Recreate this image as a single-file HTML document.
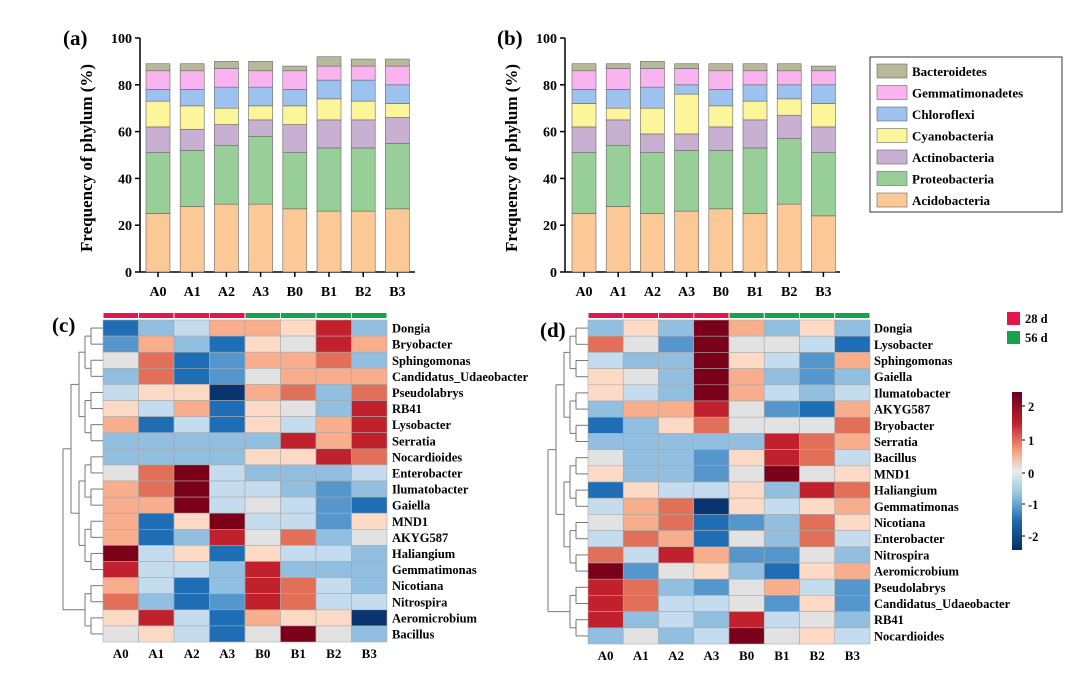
<!DOCTYPE html>
<html><head><meta charset="utf-8"><style>
body{margin:0;background:#fff}
svg{display:block;font-family:"Liberation Serif",serif;font-weight:bold}
</style></head><body>
<svg id="s" width="1080" height="680" xmlns="http://www.w3.org/2000/svg"></svg>
<script>
const s=document.getElementById('s');let h='';
function R(x,y,w,hh,f,st){h+=`<rect x="${x}" y="${y}" width="${w}" height="${hh}" fill="${f}" ${st||''}/>`}
function L(x1,y1,x2,y2,c,w){h+=`<line x1="${x1}" y1="${y1}" x2="${x2}" y2="${y2}" stroke="${c||'#000'}" stroke-width="${w||1}"/>`}
function T(x,y,t,sz,a,ex){h+=`<text x="${x}" y="${y}" font-size="${sz}" text-anchor="${a||'start'}" ${ex||''}>${t}</text>`}
const cols=['#fcc896','#98cf98','#c8b0d2','#fdf59a','#9ec2ef','#f9b4f0','#b8b89a'];
const xl=['A0','A1','A2','A3','B0','B1','B2','B3'];
function bar(ax,first,data,lab,lx){
 const y0=272,k=2.34;
 L(ax,38,ax,y0,'#000',1.5);L(ax,y0,ax+275,y0,'#000',1.5);
 for(let v=0;v<=100;v+=20){const y=y0-v*k;L(ax-5,y,ax,y,'#000',1.5);T(ax-8,y+5,v,14,'end')}
 data.forEach((d,i)=>{const cx=first+i*34.2;let prev=0;d.forEach((c,j)=>{R(cx-12,y0-c*k,24,(c-prev)*k,cols[j],'stroke="#666" stroke-width="0.6"');prev=c});
  L(cx,y0,cx,y0+5,'#000',1.5);T(cx,296,xl[i],14,'middle')});
 T(lx,45,lab,21,'start');
 h+=`<text transform="translate(${ax-48},158) rotate(-90)" font-size="17" text-anchor="middle">Frequency of phylum (%)</text>`;
}
bar(140,158,[[25,51,62,73,78,86,89],[28,52,61,71,78,86,89],[29,54,63,70,79,87,90],[29,58,65,71,79,86,90],[27,51,63,71,78,86,88],[26,53,65,74,82,88,92],[26,53,65,73,82,88,91],[27,55,66,72,80,88,91]],'(a)',63);
bar(565,584,[[25,51,62,72,78,86,89],[28,54,65,70,78,87,89],[25,51,59,70,79,87,90],[26,52,59,76,80,87,89],[27,52,62,71,78,86,89],[25,53,65,73,80,86,89],[29,57,67,74,80,86,89],[24,51,62,72,80,86,88]],'(b)',497);
// legend
R(870,57,192,155,'#fff','stroke="#333" stroke-width="1"');
['Bacteroidetes','Gemmatimonadetes','Chloroflexi','Cyanobacteria','Actinobacteria','Proteobacteria','Acidobacteria'].forEach((n,i)=>{const y=64+i*21.5;R(877,y,30,14,cols[6-i],'stroke="#666" stroke-width="0.6"');T(912,y+12,n,13)});
// heatmaps
const pal={'0':'#0a3470','1':'#1f6db5','2':'#5596cd','3':'#92bee0','4':'#c4dcee','5':'#e2e2e2','6':'#fddac6','7':'#f8ae8c','8':'#e26f57','9':'#c0212d','a':'#7a0019'};
function heat(x0,y0,w,rh,rows,names,lx){
 const cw=w/8;
 for(let j=0;j<8;j++)R(x0+j*cw+0.5,y0-7,cw-1,5,j<4?'#e3154c':'#16a34a');
 rows.forEach((r,i)=>{for(let j=0;j<8;j++)R(x0+j*cw,y0+i*rh,cw,rh,pal[r[j]],'stroke="#aaa" stroke-width="0.6"');
  T(lx,y0+i*rh+rh/2+4.5,names[i],12.5);L(x0-4,y0+i*rh+rh/2,x0,y0+i*rh+rh/2,'#777')});
 for(let j=0;j<8;j++)T(x0+j*cw+cw/2,y0+rows.length*rh+16,xl[j],13,'middle');
 // dendrogram
 let nodes=rows.map((_,i)=>({y:y0+i*rh+rh/2,x:x0-4}));
 let depth=[8,14,20,28,36,44];let lvl=0;
 while(nodes.length>1){const nn=[];for(let i=0;i<nodes.length;i+=2){if(i+1<nodes.length){const a=nodes[i],b=nodes[i+1];const x=x0-4-(depth[lvl]||50);L(a.x,a.y,x,a.y,'#777');L(b.x,b.y,x,b.y,'#777');L(x,a.y,x,b.y,'#777');nn.push({x:x,y:(a.y+b.y)/2})}else nn.push(nodes[i])}nodes=nn;lvl++}
}
heat(103,320,284,16.1,['13477693','27316597','58127783','38125777','46607838','64716539','71416479','33333979','33336698','58a43334','78a44323','77a45421','716a4426','71395835','a4616443','94439333','74139843','83129844','69417660','56415a53'],
['Dongia','Bryobacter','Sphingomonas','Candidatus_Udaeobacter','Pseudolabrys','RB41','Lysobacter','Serratia','Nocardioides','Enterobacter','Ilumatobacter','Gaiella','MND1','AKYG587','Haliangium','Gemmatimonas','Nicotiana','Nitrospira','Aeromicrobium','Bacillus'],392);
heat(588,320,282,16.2,['363a7363','852a5541','433a6427','653a7323','643a7434','37795217','13685558','33333987','53326984','63325a56','16446398','47806467','57812386','48715384','84972253','a2563167','98325742','98445262','93439453','3534a564'],
['Dongia','Lysobacter','Sphingomonas','Gaiella','Ilumatobacter','AKYG587','Bryobacter','Serratia','Bacillus','MND1','Haliangium','Gemmatimonas','Nicotiana','Enterobacter','Nitrospira','Aeromicrobium','Pseudolabrys','Candidatus_Udaeobacter','RB41','Nocardioides'],874);
T(52,332,'(c)',21);T(540,337,'(d)',21);
// annotations
R(1007,312,13,13,'#e3154c');T(1025,323,'28 d',12.5);
R(1007,331,13,13,'#16a34a');T(1025,342,'56 d',12.5);
h+='<defs><linearGradient id="g" x1="0" y1="0" x2="0" y2="1"><stop offset="0" stop-color="#67001f"/><stop offset="0.2" stop-color="#c0212d"/><stop offset="0.38" stop-color="#f4a582"/><stop offset="0.5" stop-color="#ececec"/><stop offset="0.65" stop-color="#92c5de"/><stop offset="0.82" stop-color="#2166ac"/><stop offset="1" stop-color="#053061"/></linearGradient></defs>';
R(1012,392,10,158,'url(#g)');
[['2',406],['1',440],['0',473],['-1',504],['-2',536]].forEach(([t,y])=>{L(1022,y,1025,y,'#000');T(1028,y+5,t,12.5)});
s.innerHTML=h;
</script>
</body></html>
